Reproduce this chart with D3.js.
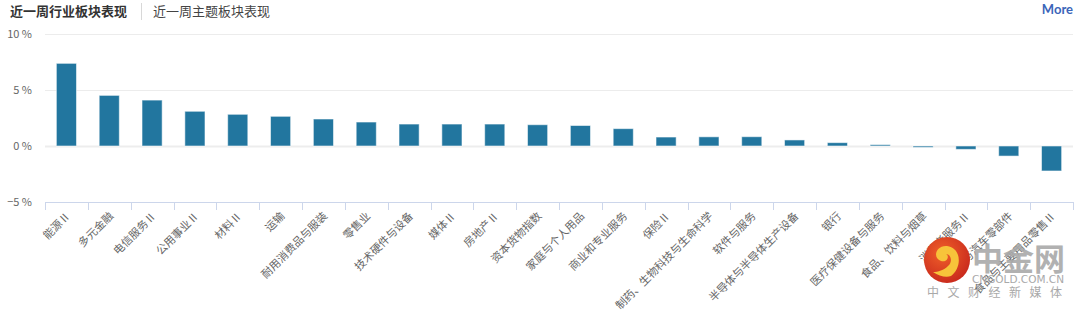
<!DOCTYPE html>
<html lang="zh">
<head>
<meta charset="utf-8">
<title>近一周行业板块表现</title>
<script src="https://d3js.org/d3.v7.min.js"></script>
<style>
  body { margin: 0; background: #fff; }
  svg { display: block; font-family: "Noto Sans CJK SC", "Noto Sans", sans-serif; }
</style>
</head>
<body>
<script>
// data (weekly change, %)
var categories = ["能源Ⅱ", "多元金融", "电信服务Ⅱ", "公用事业Ⅱ", "材料Ⅱ", "运输", "耐用消费品与服装",
  "零售业", "技术硬件与设备", "媒体Ⅱ", "房地产Ⅱ", "资本货物指数", "家庭与个人用品", "商业和专业服务",
  "保险Ⅱ", "制药、生物科技与生命科学", "软件与服务", "半导体与半导体生产设备", "银行",
  "医疗保健设备与服务", "食品、饮料与烟草", "消费者服务Ⅱ", "汽车与汽车零部件", "食品与主要用品零售Ⅱ"];
var values = [7.38, 4.52, 4.1, 3.1, 2.83, 2.65, 2.41, 2.14, 1.96, 1.96, 1.96, 1.9, 1.83, 1.55,
  0.8, 0.82, 0.83, 0.54, 0.3, 0.12, -0.12, -0.3, -0.9, -2.23];
var yTicks = [-5, 0, 5, 10];

var width = 1080, height = 311;
var plotLeft = 45, plotRight = 1073, plotTop = 34, plotBottom = 202;

var svg = d3.select("body").append("svg")
    .attr("width", width)
    .attr("height", height);

// header tabs
svg.append("text").attr("x", 10).attr("y", 16)
    .style("font-size", "13px").style("font-weight", "bold").style("fill", "#333")
    .text("近一周行业板块表现");
svg.append("line").attr("x1", 141.5).attr("x2", 141.5).attr("y1", 3).attr("y2", 20)
    .style("stroke", "#d8d8d8");
svg.append("text").attr("x", 153).attr("y", 16)
    .style("font-size", "13px").style("fill", "#444")
    .text("近一周主题板块表现");
svg.append("text").attr("x", 1073).attr("y", 14).attr("text-anchor", "end")
    .style("font-family", "Lato, 'Open Sans', sans-serif")
    .style("font-size", "13px").style("font-weight", "bold").style("fill", "#3b65b9")
    .text("More");

var x = d3.scaleBand()
    .domain(categories)
    .range([plotLeft, plotRight])
    .paddingInner(0.53)
    .paddingOuter(0.265);

var xb = d3.scaleBand().domain(categories).range([plotLeft, plotRight]);

var y = d3.scaleLinear()
    .domain([-5, 10])
    .range([plotBottom, plotTop]);

// grid lines
svg.append("g").selectAll("line")
    .data(yTicks.filter(function(d) { return d > -5; }))
    .enter().append("line")
    .attr("x1", plotLeft).attr("x2", plotRight)
    .attr("y1", function(d) { return Math.round(y(d)) + 0.5; })
    .attr("y2", function(d) { return Math.round(y(d)) + 0.5; })
    .style("stroke", function(d) { return d === 0 ? "#ededed" : "#ececec"; })
    .style("stroke-width", function(d) { return d === 0 ? 2 : 1; });

// y labels
svg.append("g").selectAll("text")
    .data(yTicks)
    .enter().append("text")
    .attr("x", 32)
    .attr("y", function(d) { return y(d); })
    .attr("dy", "0.35em")
    .attr("text-anchor", "end")
    .style("font-size", "11px")
    .style("fill", "#666")
    .text(function(d) { return (d < 0 ? "−" + Math.abs(d) : d) + " %"; });

// x axis line and ticks
var xAxis = svg.append("g");
xAxis.append("line")
    .attr("x1", plotLeft).attr("x2", plotRight)
    .attr("y1", Math.round(plotBottom) + 0.5).attr("y2", Math.round(plotBottom) + 0.5)
    .style("stroke", "#ccd6eb");
xAxis.selectAll(".tick")
    .data(categories.concat([null]))
    .enter().append("line")
    .attr("x1", function(d) { return Math.round(d === null ? plotRight : xb(d)) + 0.5; })
    .attr("x2", function(d) { return Math.round(d === null ? plotRight : xb(d)) + 0.5; })
    .attr("y1", plotBottom).attr("y2", plotBottom + 8)
    .style("stroke", "#ccd6eb");

// bars
svg.append("g").selectAll("rect")
    .data(values)
    .enter().append("rect")
    .attr("x", function(d, i) { return x(categories[i]); })
    .attr("width", x.bandwidth())
    .attr("y", function(d) { return y(Math.max(0, d)); })
    .attr("height", function(d) { return Math.abs(y(d) - y(0)); })
    .style("fill", "#22769f")
    .style("stroke", "rgba(255,255,255,0.55)")
    .style("stroke-width", 1);

// category labels
svg.append("g").selectAll("text")
    .data(categories)
    .enter().append("text")
    .attr("transform", function(d) {
      return "translate(" + (xb(d) + xb.bandwidth() / 2 + 2) + "," + 214 + ") rotate(-45)";
    })
    .attr("dy", "0.35em")
    .attr("text-anchor", "end")
    .style("font-size", "11px")
    .style("fill", "#666")
    .text(function(d) { return d; });

// watermark
var wm = svg.append("g");
var grad = svg.append("defs").append("radialGradient").attr("id", "logo")
    .attr("cx", "40%").attr("cy", "35%").attr("r", "70%");
grad.append("stop").attr("offset", "0%").attr("stop-color", "#f0602a");
grad.append("stop").attr("offset", "100%").attr("stop-color", "#c8281c");
wm.append("circle").attr("cx", 947).attr("cy", 260).attr("r", 23)
    .style("fill", "url(#logo)");
wm.append("path")
    .attr("d", "M951,276 C962,268 962,248 947,246 C936,245 932,258 941,261 C947,263 950,256 946,254 C951,254 953,262 948,266 C944,270 938,272 933,272 C939,276 946,278 951,276 Z")
    .style("fill", "#f7c33a");
wm.append("text").attr("x", 972).attr("y", 270)
    .style("font-size", "31px").style("font-weight", "bold").style("fill", "#a9a9a9")
    .style("opacity", 0.9)
    .text("中金网");
wm.append("text").attr("x", 972).attr("y", 283)
    .style("font-family", "'DejaVu Sans', sans-serif")
    .style("font-size", "10.5px").style("fill", "#a9a9a9")
    .text("CNGOLD.COM.CN");
wm.append("text").attr("x", 927).attr("y", 297)
    .style("font-size", "12px").style("fill", "#a9a9a9")
    .style("letter-spacing", "8.5px")
    .text("中文财经新媒体");
</script>
</body>
</html>
